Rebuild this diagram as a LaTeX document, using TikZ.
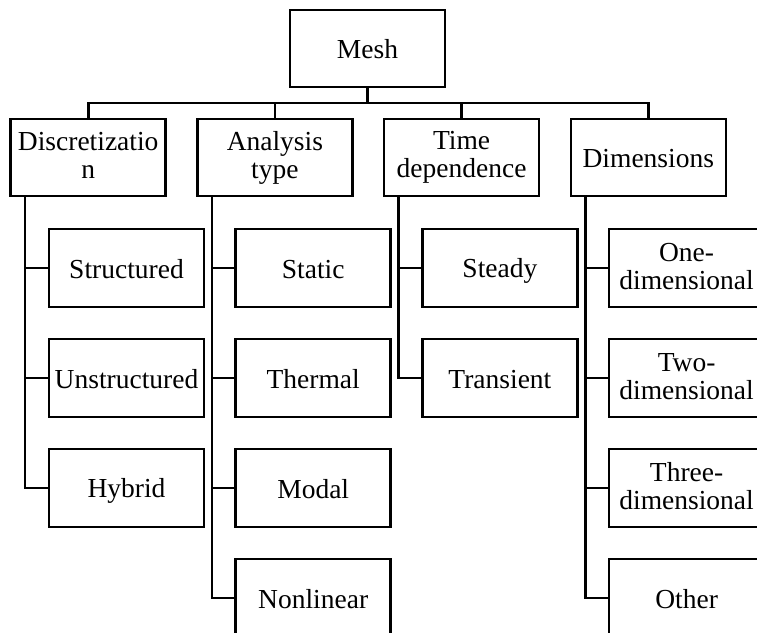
\documentclass[tikz,border=0pt]{standalone}
\usepackage{fontspec}
\setmainfont{Liberation Serif}
% fixed line height so every label sits at the same level in its box
\newcommand\boxstrut{\rule[-4pt]{0pt}{28pt}}
\begin{document}
\begin{tikzpicture}[x=1pt,y=-1pt,
  box/.style={draw=black,line width=2.6pt,fill=white,inner sep=0pt,
    minimum width=155pt,align=center,
    font=\fontsize{27.5}{28}\selectfont,
    execute at begin node=\boxstrut,
    execute at end node=\boxstrut},
  headbox/.style={box,minimum height=77pt},
  leafbox/.style={box,minimum height=78pt},
  link/.style={draw=black,line width=2.6pt}]
\clip (0,0) rectangle (757,632);
\fill[white] (0,0) rectangle (757,632);

% root
\node[headbox] (mesh) at (367.5,48.5) {Mesh};

% categories
\node[headbox] (disc) at (88.2,157.5) {Discretizatio\\n};
\node[headbox] (ana)  at (274.9,157.5) {Analysis\\type};
\node[headbox] (time) at (461.6,157.5) {Time\\dependence};
\node[headbox] (dim)  at (648.3,157.5) {Dimensions};

% discretization
\node[leafbox] (struct)   at (126.5,268) {Structured};
\node[leafbox] (unstruct) at (126.5,378) {Unstructured};
\node[leafbox] (hybrid)   at (126.5,488) {Hybrid};

% analysis type
\node[leafbox] (static)    at (313.2,268) {Static};
\node[leafbox] (thermal)   at (313.2,378) {Thermal};
\node[leafbox] (modal)     at (313.2,488) {Modal};
\node[leafbox] (nonlinear) at (313.2,598) {Nonlinear};

% time dependence
\node[leafbox] (steady)    at (499.9,268) {Steady};
\node[leafbox] (transient) at (499.9,378) {Transient};

% dimensions
\node[leafbox] (one)   at (686.6,268) {One-\\dimensional};
\node[leafbox] (two)   at (686.6,378) {Two-\\dimensional};
\node[leafbox] (three) at (686.6,488) {Three-\\dimensional};
\node[leafbox] (other) at (686.6,598) {Other};

% bus from the root to the categories
\coordinate (busmid) at (mesh.south |- 0,103);
\draw[link] (mesh.south) -- (busmid);
\draw[link] (disc.north) |- (busmid) -| (dim.north);
\draw[link] (ana.north) -- (ana.north |- busmid);
\draw[link] (time.north) -- (time.north |- busmid);

% trunks down the left side of each category
\coordinate (discT) at ([xshift=15.7pt]disc.south west);
\coordinate (anaT)  at ([xshift=15.7pt]ana.south west);
\coordinate (timeT) at ([xshift=15.7pt]time.south west);
\coordinate (dimT)  at ([xshift=15.7pt]dim.south west);

\draw[link] (discT) |- (struct.west);
\draw[link] (discT) |- (unstruct.west);
\draw[link] (discT) |- (hybrid.west);

\draw[link] (anaT) |- (static.west);
\draw[link] (anaT) |- (thermal.west);
\draw[link] (anaT) |- (modal.west);
\draw[link] (anaT) |- (nonlinear.west);

\draw[link] (timeT) |- (steady.west);
\draw[link] (timeT) |- (transient.west);

\draw[link] (dimT) |- (one.west);
\draw[link] (dimT) |- (two.west);
\draw[link] (dimT) |- (three.west);
\draw[link] (dimT) |- (other.west);
\end{tikzpicture}
\end{document}
